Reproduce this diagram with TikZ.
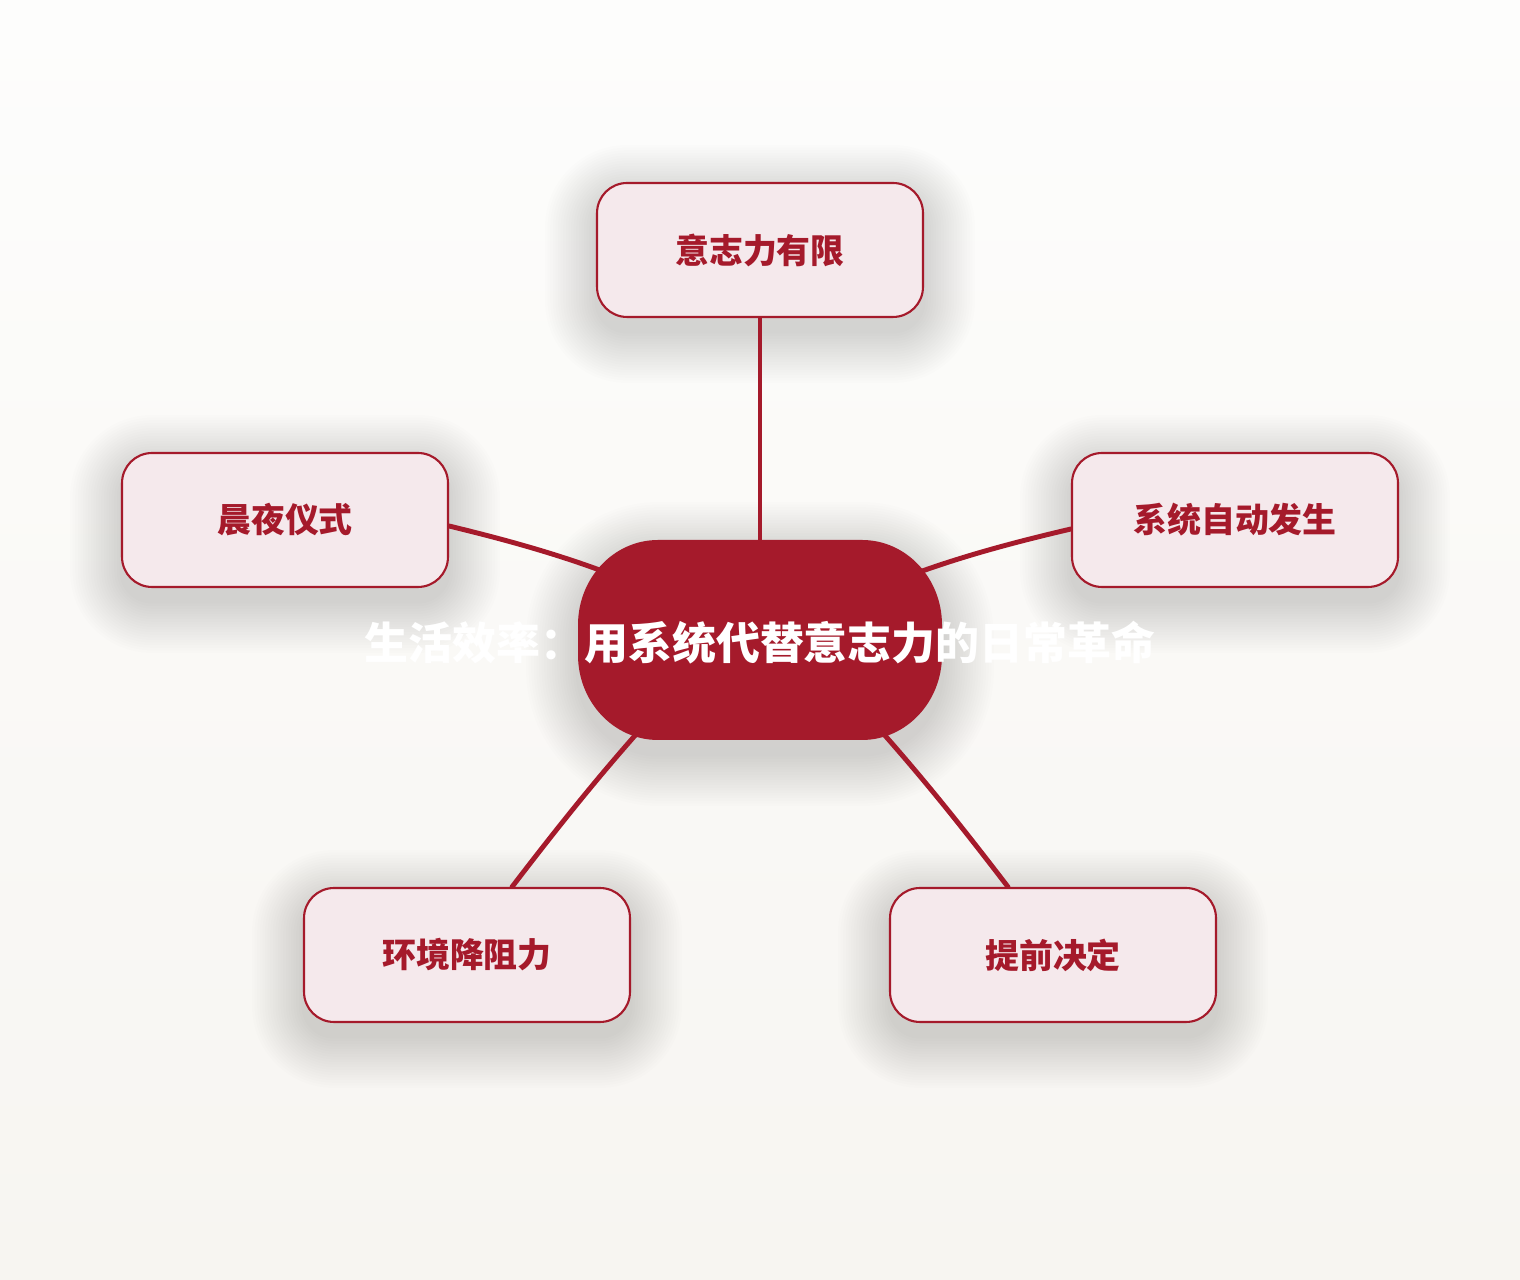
\documentclass[tikz,border=0pt]{standalone}
\usepackage{fontspec}
\setmainfont{Noto Sans CJK SC}
\definecolor{hred}{HTML}{A51A2B}
\definecolor{boxfill}{HTML}{F5E9EC}
\definecolor{bgtop}{HTML}{FDFDFC}
\definecolor{bgbot}{HTML}{F7F5F1}
\pgfdeclarelayer{bg}
\pgfdeclarelayer{shadowlayer}
\pgfdeclarelayer{lines}
\pgfsetlayers{bg,shadowlayer,lines,main}
\tikzset{
  subbox/.style={draw=hred, line width=1.2pt, fill=boxfill, rounded corners=0.6cm,
    minimum width=6.52cm, minimum height=2.68cm, inner sep=0pt,
    font=\fontsize{19.3}{21}\selectfont\bfseries, text=hred},
  link/.style={draw=hred, line width=2.8pt, line cap=round},
  shadowstep/.style={fill=black, fill opacity=0.0075, draw=none},
}
% soft shadow behind a box: centre x, centre y (px units)
\newcommand{\boxshadow}[2]{%
  \foreach \i in {1,...,20}{%
    \pgfmathsetmacro\rr{(30+2.6*\i)*0.02}%
    \pgfmathsetmacro\gx{163+2.6*\i}%
    \pgfmathsetmacro\gy{67+2.6*\i}%
    \fill[shadowstep, rounded corners=\rr cm] (#1-\gx,#2-\gy-14) rectangle (#1+\gx,#2+\gy-14);
  }%
}
% centre shape path, grown by g px, shifted down by d px
\newcommand{\centrepath}[2]{%
  (658,740+#1-#2) -- (862,740+#1-#2)
  arc[start angle=90, end angle=0, x radius={(80+#1)*0.02cm}, y radius={(85+#1)*0.02cm}]
  -- (942+#1,625-#2)
  arc[start angle=0, end angle=-90, x radius={(80+#1)*0.02cm}, y radius={(85+#1)*0.02cm}]
  -- (658,540-#1-#2)
  arc[start angle=-90, end angle=-180, x radius={(80+#1)*0.02cm}, y radius={(85+#1)*0.02cm}]
  -- (578-#1,655-#2)
  arc[start angle=180, end angle=90, x radius={(80+#1)*0.02cm}, y radius={(85+#1)*0.02cm}] -- cycle
}
\begin{document}
\begin{tikzpicture}[x=0.02cm,y=0.02cm]
\useasboundingbox (0,0) rectangle (1520,1280);
\begin{pgfonlayer}{bg}
\shade[top color=bgtop, bottom color=bgbot] (0,0) rectangle (1520,1280);
\end{pgfonlayer}
% nodes
\node[subbox] (t) at (760,1030) {意志力有限};
\node[subbox] (l) at (285,760) {晨夜仪式};
\node[subbox] (r) at (1235,760) {系统自动发生};
\node[subbox] (bl) at (467,325) {环境降阻力};
\node[subbox] (br) at (1053,325) {提前决定};
% shadows
\begin{pgfonlayer}{shadowlayer}
\boxshadow{760}{1030}
\boxshadow{285}{760}
\boxshadow{1235}{760}
\boxshadow{467}{325}
\boxshadow{1053}{325}
\foreach \i in {1,...,20}{
  \pgfmathsetmacro\g{2.6*\i}
  \fill[shadowstep] \centrepath{\g}{14};
}
\end{pgfonlayer}
% centre shape and title
\fill[hred] \centrepath{0}{0};
\node[text=white, font=\fontsize{25}{27}\selectfont\bfseries, inner sep=0pt,
  minimum width=7.28cm, minimum height=4cm] (c) at (760,637) {生活效率：用系统代替意志力的日常革命};
\coordinate (cl) at ([xshift=-0.8cm]c.center);
\coordinate (cr) at ([xshift=0.8cm]c.center);
% connectors
\begin{pgfonlayer}{lines}
\draw[link] (t.south) -- (c.center);
\draw[link] ([yshift=-0.12cm]l.east) to[bend left=7] (c.center);
\draw[link] ([yshift=-0.18cm]r.west) to[bend right=7] (c.center);
\draw[link] ([xshift=0.9cm]bl.north) to[bend left=3] (cl);
\draw[link] ([xshift=-0.9cm]br.north) to[bend right=3] (cr);
\end{pgfonlayer}
\end{tikzpicture}
\end{document}
